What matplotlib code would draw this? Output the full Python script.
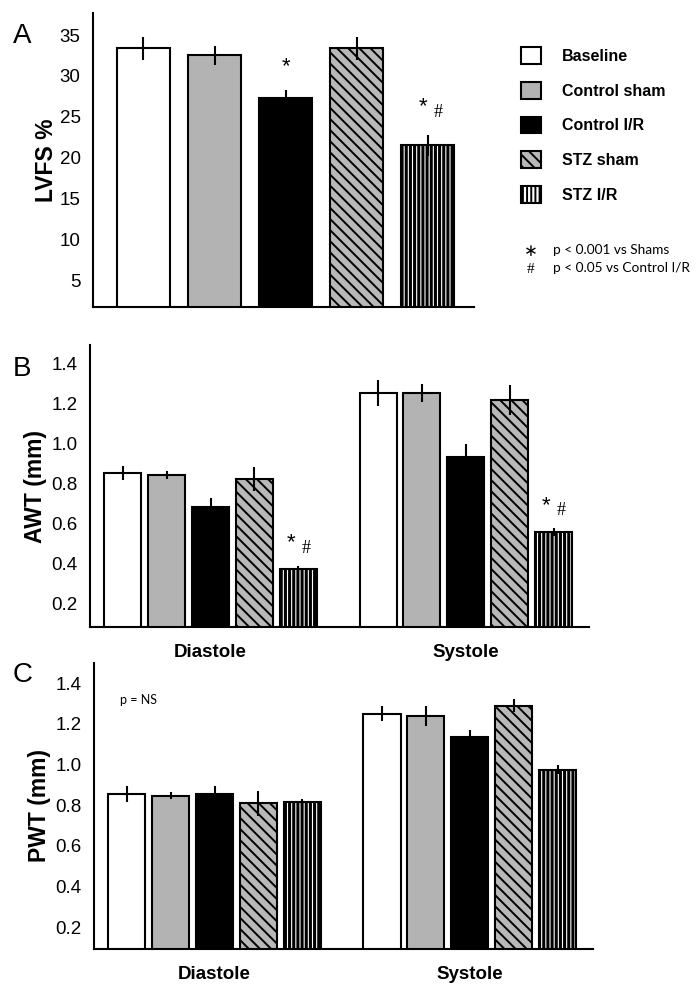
"""Echo panels: LVFS, AWT and PWT by group."""

import numpy as np
import matplotlib
matplotlib.use("Agg")
import matplotlib.pyplot as plt
from matplotlib.patches import Patch

# Data
groups = ["Baseline", "Control sham", "Control I/R", "STZ sham", "STZ I/R"]
phases = ["Diastole", "Systole"]

lvfs = [33.4, 32.5, 27.3, 33.4, 21.5]
lvfs_err = [1.4, 1.2, 1.0, 1.4, 1.3]

awt_dia = [0.85, 0.84, 0.68, 0.82, 0.37]
awt_dia_err = [0.035, 0.018, 0.045, 0.058, 0.017]
awt_sys = [1.25, 1.25, 0.93, 1.215, 0.553]
awt_sys_err = [0.065, 0.045, 0.067, 0.075, 0.02]

pwt_dia = [0.855, 0.847, 0.855, 0.81, 0.816]
pwt_dia_err = [0.038, 0.016, 0.038, 0.062, 0.015]
pwt_sys = [1.25, 1.24, 1.135, 1.29, 0.975]
pwt_sys_err = [0.036, 0.05, 0.034, 0.033, 0.021]

# =============================================================================
plt.rcParams['font.family'] = ['Liberation Sans', 'DejaVu Sans']
plt.rcParams['hatch.linewidth'] = 1.4

FC = ["white", "#b3b3b3", "black", "#b8b8b8", "white"]
HT = [None, None, None, "\\\\\\", "||||"]
HLW = [1.4, 1.4, 1.4, 1.4, 2.2]  # hatch line widths
LW = 1.5
TICK_FS = 13.5
LAB_FS = 16.5

fig = plt.figure(figsize=(7, 9.92), dpi=100)
axA = fig.add_axes([0.1329, 0.6905, 0.5441, 0.2964])
axB = fig.add_axes([0.1286, 0.3679, 0.7128, 0.2843])
axC = fig.add_axes([0.1343, 0.0433, 0.7127, 0.2884])


def style(ax):
    for s in ["top", "right"]:
        ax.spines[s].set_visible(False)
    for s in ["left", "bottom"]:
        ax.spines[s].set_linewidth(LW)
    ax.tick_params(length=0, labelsize=TICK_FS, pad=9)


def draw_bars(ax, x, vals, errs, width):
    for i in range(len(vals)):
        with plt.rc_context({'hatch.linewidth': HLW[i]}):
            bars = ax.bar(x[i], vals[i], width, color=FC[i], edgecolor="black",
                          linewidth=LW, hatch=HT[i], zorder=2)
        for b in bars:
            if hasattr(b, "set_hatch_linewidth"):
                b.set_hatch_linewidth(HLW[i])
    ax.errorbar(x, vals, yerr=errs, fmt="none", ecolor="black",
                elinewidth=LW, capsize=0, zorder=3)


# -----------------------------------------------------------------------------
# A: LVFS
xa = np.arange(len(groups))
draw_bars(axA, xa, lvfs, lvfs_err, 0.75)
axA.set_xlim(-0.71, 4.65)
axA.set_ylim(1.7, 37.7)
axA.set_yticks([5, 10, 15, 20, 25, 30, 35])
axA.set_xticks([])
axA.set_ylabel("LVFS %", fontsize=LAB_FS, fontweight="bold", labelpad=1)
style(axA)
axA.text(2, 30.4, "*", ha="center", fontsize=16)
axA.text(3.93, 25.6, "*", ha="center", fontsize=16)
axA.text(4.15, 25.0, "#", ha="center", fontsize=13, family="Liberation Serif")

# -----------------------------------------------------------------------------
# B and C: wall thickness
OFF = 0.172
BW = 0.145
xg = np.arange(len(phases))
offs = (np.arange(len(groups)) - 2) * OFF

for ax, dia, dia_e, sys_, sys_e, lab in [
        (axB, awt_dia, awt_dia_err, awt_sys, awt_sys_err, "AWT (mm)"),
        (axC, pwt_dia, pwt_dia_err, pwt_sys, pwt_sys_err, "PWT (mm)")]:
    draw_bars(ax, xg[0] + offs, dia, dia_e, BW)
    draw_bars(ax, xg[1] + offs, sys_, sys_e, BW)
    ax.set_xlim(-0.472, 1.482)
    ax.set_yticks([0.2, 0.4, 0.6, 0.8, 1.0, 1.2, 1.4])
    ax.set_yticklabels(["0.2", "0.4", "0.6", "0.8", "1.0", "1.2", "1.4"])
    ax.set_xticks(xg)
    ax.set_xticklabels(phases, fontweight="bold", fontsize=11)
    ax.set_ylabel(lab, fontsize=LAB_FS, fontweight="bold", labelpad=3)
    style(ax)
    ax.tick_params(axis="x", pad=12)

axB.set_ylim(0.08, 1.49)
axC.set_ylim(0.093, 1.50)

# significance marks in B
for g, vals, errs in [(0, awt_dia, awt_dia_err), (1, awt_sys, awt_sys_err)]:
    xs = xg[g] + offs[4]
    axB.text(xs - 0.03, vals[4] + errs[4] + 0.085, "*", ha="center",
             fontsize=16)
    axB.text(xs + 0.03, vals[4] + errs[4] + 0.065, "#", ha="center",
             fontsize=13, family="Liberation Serif")

axC.text(-0.37, 1.32, "p = NS", fontsize=9, family="Lato", va="center")

# panel letters
fig.text(0.018, 0.957, "A", fontsize=20)
fig.text(0.018, 0.621, "B", fontsize=20)
fig.text(0.018, 0.3125, "C", fontsize=20)

# legend
handles = [Patch(facecolor=FC[i], edgecolor="black", hatch=HT[i], linewidth=LW)
           for i in range(len(groups))]
for i, h in enumerate(handles):
    if hasattr(h, "set_hatch_linewidth"):
        h.set_hatch_linewidth(HLW[i])
fig.legend(handles, groups, loc="upper left", bbox_to_anchor=(0.744, 1 - 47 / 992),
           frameon=False, borderpad=0, borderaxespad=0, handlelength=1.25,
           handleheight=1.25, handletextpad=1.3, labelspacing=1.12,
           prop={"weight": "bold", "size": 11.5})

# notes
fig.text(0.758, 1 - 252 / 992, "∗", fontsize=12, va="center", ha="center")
fig.text(0.79, 1 - 250 / 992, "p < 0.001 vs Shams", fontsize=9.8,
         family="Lato", va="center")
fig.text(0.758, 1 - 269 / 992, "#", fontsize=11, va="center", ha="center",
         family="Liberation Serif")
fig.text(0.79, 1 - 268 / 992, "p < 0.05 vs Control I/R", fontsize=9.8,
         family="Lato", va="center")

fig.savefig("out.png", dpi=100)
